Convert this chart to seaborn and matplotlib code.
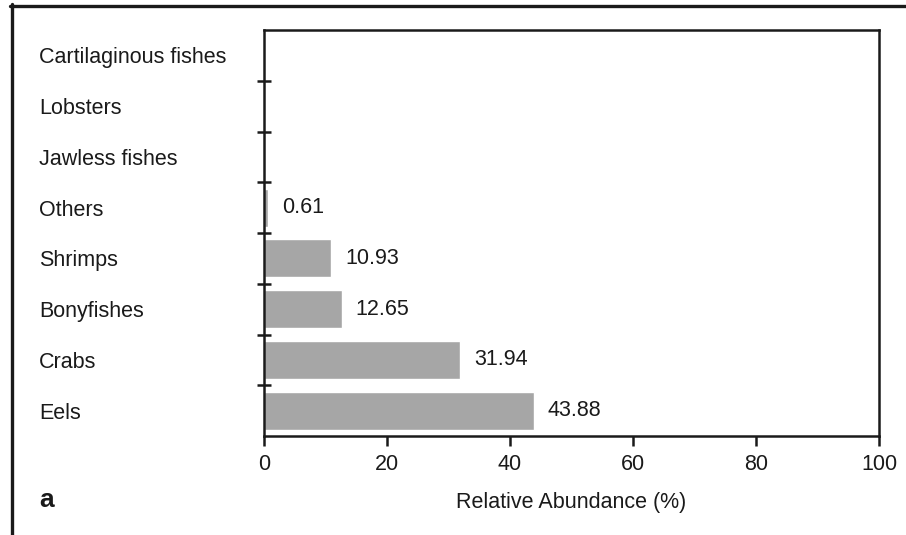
import matplotlib
matplotlib.use("Agg")
import matplotlib.pyplot as plt
from matplotlib.lines import Line2D
import numpy as np
import pandas as pd
import seaborn as sns

categories = ["Cartilaginous fishes", "Lobsters", "Jawless fishes", "Others",
              "Shrimps", "Bonyfishes", "Crabs", "Eels"]
abundance = [0.0, 0.0, 0.0, 0.61, 10.93, 12.65, 31.94, 43.88]
x_ticks = [0, 20, 40, 60, 80, 100]

sns.set_theme(style="white")
plt.rcParams["font.family"] = ["Liberation Sans", "DejaVu Sans"]

FS = 15.5
INK = "#1a1a1a"

df = pd.DataFrame({"group": categories, "value": abundance})

fig = plt.figure(figsize=(9.06, 5.35), dpi=100)
ax = fig.add_axes([0.2914, 0.1850, 0.6788, 0.7589])

sns.barplot(data=df, y="group", x="value", order=categories, orient="h",
            color="#a6a6a6", saturation=1, width=0.75, ax=ax)

ax.set_xlim(0, 100)
ax.set_ylim(len(categories) - 0.5, -0.5)
ax.set_xticks(x_ticks)
ax.set_xticklabels([str(t) for t in x_ticks], fontsize=FS, color=INK)
ax.set_xlabel("Relative Abundance (%)", fontsize=FS, color=INK, labelpad=12)
ax.set_ylabel("")

# category names left-aligned far to the left of the axis
ax.set_yticks(range(len(categories)))
ax.set_yticklabels(categories, fontsize=FS, color=INK, ha="left")
ax.tick_params(axis="y", which="major", length=0, pad=162)

# boundary ticks between categories, crossing the left spine
ax.set_yticks(np.arange(0.5, len(categories) - 0.5, 1.0), minor=True)
ax.tick_params(axis="y", which="minor", left=True, direction="inout",
               length=10, width=1.8, color=INK)
ax.tick_params(axis="x", which="major", bottom=True, direction="out",
               length=7, width=1.8, color=INK, pad=6)

for side in ["left", "right", "top", "bottom"]:
    ax.spines[side].set_visible(True)
    ax.spines[side].set_color(INK)
    ax.spines[side].set_linewidth(1.8)

# value labels for non-empty bars
container = ax.containers[0]
labels = [f"{v:.2f}" if v > 0 else "" for v in abundance]
ax.bar_label(container, labels=labels, padding=10, fontsize=FS, color=INK)

# panel letter
fig.text(0.043, 0.066, "a", fontsize=19, fontweight="bold", color=INK,
         ha="left", va="center")

# outer panel frame (top and left edges)
fig.add_artist(Line2D([10 / 906, 1.0], [1 - 5.5 / 535, 1 - 5.5 / 535],
                      transform=fig.transFigure, color=INK, linewidth=2.4))
fig.add_artist(Line2D([11.5 / 906, 11.5 / 906], [0.0, 1 - 4 / 535],
                      transform=fig.transFigure, color=INK, linewidth=2.4))

fig.savefig("out.png", dpi=100)
